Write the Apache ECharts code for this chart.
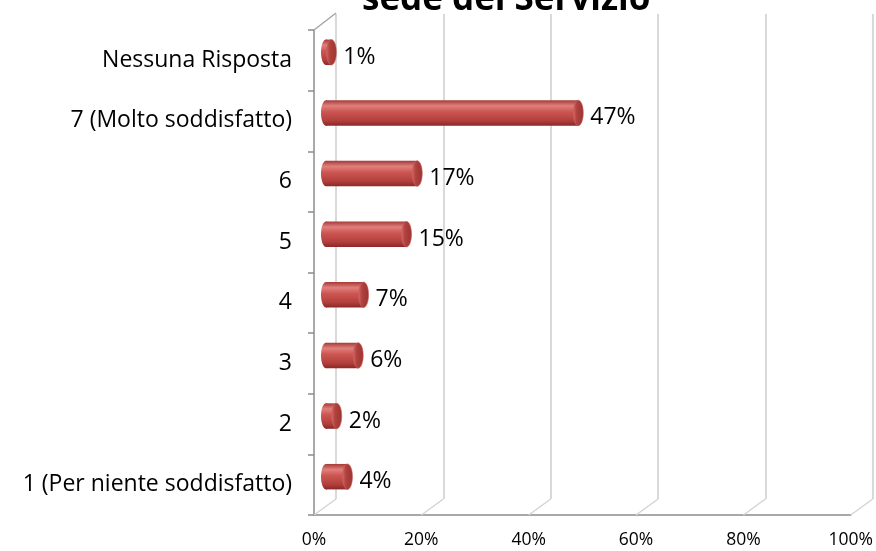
<!DOCTYPE html>
<html>
<head>
<meta charset="utf-8">
<script src="https://cdn.jsdelivr.net/npm/echarts@6/dist/echarts.min.js"></script>
<style>
  html, body { margin: 0; padding: 0; background: #fff; }
  #chart { width: 876px; height: 551px; }
</style>
</head>
<body>
<div id="chart"></div>
<script>
// Satisfaction answers, bottom to top
const categories = [
  '1 (Per niente soddisfatto)', '2', '3', '4', '5', '6',
  '7 (Molto soddisfatto)', 'Nessuna Risposta'
];
const percentages = [4, 2, 6, 7, 15, 17, 47, 1];
const xTicks = [0, 20, 40, 60, 80, 100];
const titleText = 'sede del Servizio';

// depth offset of the 3D box (front plane -> back wall)
const DEPTH_X = 22, DEPTH_Y = -16;
const FONT = '"Open Sans", "Liberation Sans", sans-serif';

const chart = echarts.init(document.getElementById('chart'), null, { renderer: 'canvas' });

function renderCylinder(params, api) {
  const v = api.value(0);
  const idx = api.value(1);
  const p0 = api.coord([0, idx]);
  const p1 = api.coord([v, idx]);
  const band = api.size([0, 1])[1];
  const h = band * 0.42;
  const yc = p0[1] + DEPTH_Y / 2;
  const x0 = p0[0] + DEPTH_X / 2 + 1;
  const x1 = p1[0] + DEPTH_X / 2 + 1;
  const rx = 5;
  const body = new echarts.graphic.LinearGradient(0, 0, 0, 1, [
    { offset: 0, color: '#a63a37' },
    { offset: 0.22, color: '#e0807c' },
    { offset: 0.45, color: '#cd5652' },
    { offset: 0.8, color: '#b23f3c' },
    { offset: 1, color: '#8a2826' }
  ]);
  const cap = new echarts.graphic.LinearGradient(0, 0, 1, 0, [
    { offset: 0, color: '#d66a66' },
    { offset: 0.35, color: '#b0423f' },
    { offset: 1, color: '#9c3330' }
  ]);
  return {
    type: 'group',
    children: [
      { type: 'ellipse', shape: { cx: x0, cy: yc, rx: rx, ry: h / 2 }, style: { fill: body } },
      { type: 'rect', shape: { x: x0, y: yc - h / 2, width: Math.max(x1 - x0, 0), height: h }, style: { fill: body } },
      { type: 'ellipse', shape: { cx: x1, cy: yc, rx: rx, ry: h / 2 }, style: { fill: cap, stroke: '#c8605c', lineWidth: 0.6 } },
      {
        type: 'text',
        style: {
          x: x1 + rx + 7, y: yc + 5,
          text: v + '%',
          fill: '#000',
          font: '23px ' + FONT,
          verticalAlign: 'middle', align: 'left'
        }
      }
    ]
  };
}

// floor diagonals at each x tick, plus the top edge of the side wall
function renderFloor(params, api) {
  const v = api.value(0);
  const cs = params.coordSys;
  const x = api.coord([v, 0])[0];
  const bottom = cs.y + cs.height;
  const children = [{
    type: 'line',
    shape: { x1: x, y1: bottom, x2: x + DEPTH_X, y2: bottom + DEPTH_Y },
    style: { stroke: '#d4d4d4', lineWidth: 1.5 }
  }];
  if (v === 0) {
    children.push({
      type: 'line',
      shape: { x1: x, y1: cs.y, x2: x + DEPTH_X, y2: cs.y + DEPTH_Y - 1 },
      style: { stroke: '#a6a6a6', lineWidth: 1.5 }
    });
  }
  return { type: 'group', children: children };
}

const option = {
  backgroundColor: '#fff',
  animation: false,
  title: {
    text: titleText,
    left: 357,
    top: -22,
    textStyle: { fontFamily: FONT, fontWeight: 'bold', fontSize: 35, color: '#000' }
  },
  grid: [
    { left: 314, right: 24, top: 30, bottom: 36 },
    { left: 336, right: 3, top: 14, bottom: 52 }
  ],
  xAxis: [
    {
      type: 'value', gridIndex: 0, min: 0, max: 100, interval: 20,
      axisLine: { show: true, lineStyle: { color: '#8c8c8c', width: 1.5 } },
      axisTick: { show: false },
      splitLine: { show: false },
      axisLabel: {
        formatter: '{value}%', margin: 16,
        fontFamily: FONT, fontSize: 17.5, color: '#000'
      }
    },
    {
      type: 'value', gridIndex: 1, min: 0, max: 100, interval: 20,
      axisLine: { show: false }, axisTick: { show: false }, axisLabel: { show: false },
      splitLine: { show: true, lineStyle: { color: '#d9d9d9', width: 2 } }
    }
  ],
  yAxis: [
    {
      type: 'category', gridIndex: 0, data: categories,
      axisLine: { show: true, lineStyle: { color: '#8c8c8c', width: 1.5 } },
      axisTick: { show: true, length: 6, lineStyle: { color: '#8c8c8c', width: 1.5 } },
      axisLabel: { margin: 22, fontFamily: FONT, fontSize: 23, color: '#000' },
      splitLine: { show: false }
    },
    {
      type: 'value', gridIndex: 1, show: false
    }
  ],
  series: [
    {
      type: 'custom', name: 'floor',
      xAxisIndex: 0, yAxisIndex: 0,
      renderItem: renderFloor,
      data: xTicks.map(t => [t, 0]),
      silent: true, z: 1
    },
    {
      type: 'custom', name: 'risposte',
      xAxisIndex: 0, yAxisIndex: 0,
      renderItem: renderCylinder,
      data: percentages.map((v, i) => [v, i]),
      z: 5
    }
  ]
};

chart.setOption(option);
</script>
</body>
</html>
